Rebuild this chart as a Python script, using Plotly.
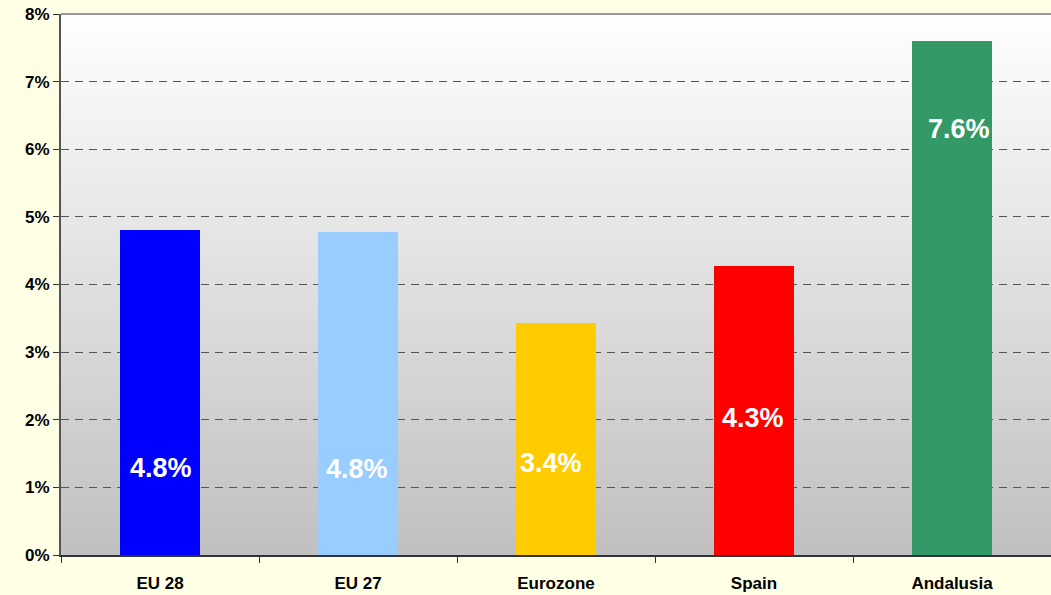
import plotly.graph_objects as go

categories = ["EU 28", "EU 27", "Eurozone", "Spain", "Andalusia"]
values = [4.8, 4.78, 3.43, 4.28, 7.6]
labels = ["4.8%", "4.8%", "3.4%", "4.3%", "7.6%"]
bar_colors = ["#0000FF", "#99CCFF", "#FFCC00", "#FF0000", "#339966"]
y_ticks = [0, 1, 2, 3, 4, 5, 6, 7, 8]
y_tick_text = ["0%", "1%", "2%", "3%", "4%", "5%", "6%", "7%", "8%"]

# label placement inside the bars (axis units / pixel shifts)
label_y = [1.29, 1.27, 1.36, 2.03, 6.30]
label_xshift = [1, -1, -5, -1, 7]

FONT = "Liberation Sans, Arial, sans-serif"

fig = go.Figure()
fig.add_trace(go.Bar(
    x=categories, y=values, marker=dict(color=bar_colors, line=dict(width=0)),
    width=0.404, hoverinfo="skip"
))

# gradient plot background (white -> grey)
n = 80
shapes = []
for i in range(n):
    f = (i + 0.5) / n
    c = int(round(192 + (255 - 192) * f))
    shapes.append(dict(type="rect", xref="paper", yref="paper",
                       x0=0, x1=1, y0=i / n, y1=(i + 1) / n + 0.002,
                       fillcolor=f"rgb({c},{c},{c})", line=dict(width=0), layer="below"))
shapes.append(dict(type="line", xref="paper", yref="paper", x0=0, x1=1, y0=1, y1=1,
                   line=dict(color="#9A9A9A", width=2), layer="above"))
fig.update_layout(shapes=shapes)

for c, t, ly, xs in zip(categories, labels, label_y, label_xshift):
    fig.add_annotation(x=c, y=ly, text=t, showarrow=False, xshift=xs,
                       font=dict(family=FONT, size=27, color="white", weight="bold"))

fig.update_layout(
    width=1051, height=595,
    margin=dict(l=61, r=0, t=14, b=40),
    paper_bgcolor="#FFFFE5",
    plot_bgcolor="rgba(0,0,0,0)",
    showlegend=False,
    font=dict(family=FONT, color="black"),
    bargap=0,
)
fig.update_xaxes(
    type="category", tickson="boundaries", ticks="outside", ticklen=6,
    tickcolor="#333333", showline=True, linecolor="#333333", linewidth=2,
    showgrid=False, ticklabelstandoff=12,
    tickfont=dict(size=17, family=FONT, weight="bold"),
)
fig.update_yaxes(
    range=[0, 8], tickvals=y_ticks, ticktext=y_tick_text, ticks="outside", ticklen=6,
    tickcolor="#333333", showline=True, linecolor="#555555", linewidth=2,
    showgrid=True, gridcolor="#555555", gridwidth=1, griddash="8px,6px",
    zeroline=False,
    tickfont=dict(size=17, family=FONT, weight="bold"),
)
fig.write_html("out.html", config={"displayModeBar": False},
               post_script="document.body.style.margin='0';document.body.style.overflow='hidden';document.body.style.background='#FFFFE5';")
